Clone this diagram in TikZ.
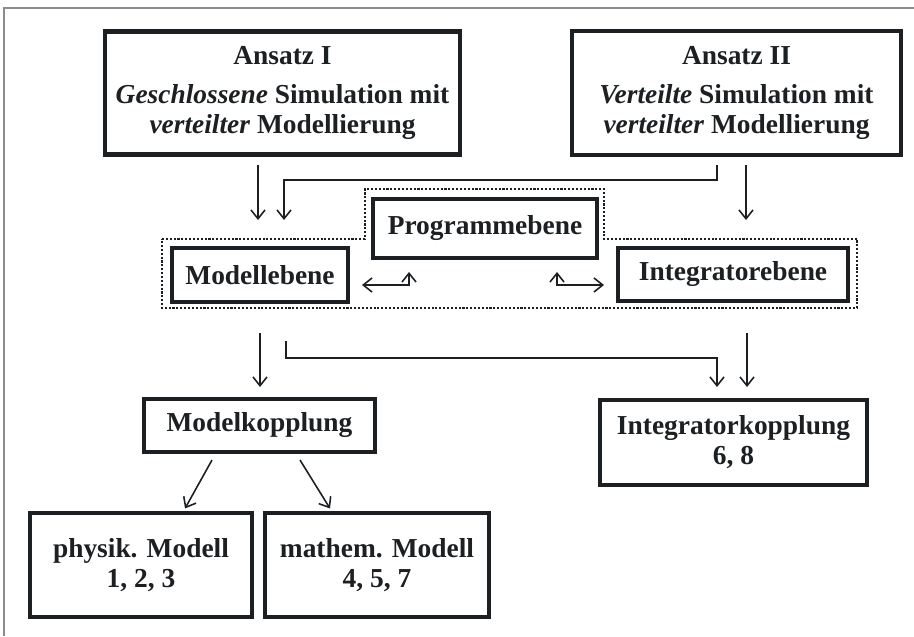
\documentclass[tikz,border=0pt]{standalone}
\usepackage{fontspec}
\setmainfont{Liberation Serif}
\usepackage{tikz}
\usetikzlibrary{arrows.meta, positioning, calc}
\usepackage{xcolor}
\definecolor{InkBlack}{RGB}{28,32,34}
\definecolor{FrameGray}{RGB}{140,140,140}
\newcommand{\diafont}{\fontsize{15.6pt}{17pt}\selectfont\bfseries}
\tikzset{
  levelbox/.style={rectangle,draw=InkBlack,line width=2.3pt,fill=white,
    align=center,font=\diafont,text=InkBlack,inner sep=0pt},
  arrow/.style={-{Straight Barb[length=5pt,width=8pt,line width=0.9pt]},
    line width=0.9pt,color=InkBlack},
  twoarrow/.style={{Straight Barb[length=5pt,width=8pt,line width=0.9pt]}-{Straight Barb[length=5pt,width=8pt,line width=0.9pt]},
    line width=0.9pt,color=InkBlack},
  dotframe/.style={densely dotted,line width=1.2pt,color=InkBlack}
}

\begin{document}
\begin{tikzpicture}
  \useasboundingbox (0,0) rectangle (18.28,12.72);
  \draw[FrameGray,line width=0.6pt] (0.08,0) -- (0.08,12.56) -- (18.28,12.56);

  % approaches
  \node[levelbox,minimum width=7.1cm,minimum height=2.46cm] (ansatzA) at (5.65,10.86)
    {Ansatz I\\[5pt]\textit{Geschlossene} Simulation mit\\\textit{verteilter} Modellierung};
  \node[levelbox,minimum width=6.58cm,minimum height=2.48cm] (ansatzB) at (14.73,10.86)
    {Ansatz II\\[5pt]\textit{Verteilte} Simulation mit\\\textit{verteilter} Modellierung};

  % levels
  \draw[dotframe] (3.24,7.94) -- (7.30,7.94) -- (7.30,8.94) -- (12.08,8.94) -- (12.08,7.94)
    -- (17.14,7.94) -- (17.14,6.56) -- (3.24,6.56) -- cycle;
  \node[levelbox,minimum width=4.48cm,minimum height=1.18cm] (prog) at (9.70,8.15) {Programmebene};
  \node[levelbox,minimum width=3.52cm,minimum height=1.08cm] (modell) at (5.20,7.22) {Modellebene};
  \node[levelbox,minimum width=4.6cm,minimum height=1.06cm] (integ) at (14.66,7.23) {Integratorebene};

  % couplings
  \node[levelbox,minimum width=4.62cm,minimum height=1.06cm] (modkop) at (5.19,4.21) {Modelkopplung};
  \node[levelbox,minimum width=5.34cm,minimum height=1.70cm] (intkop) at (14.67,3.87) {Integratorkopplung\\6, 8};
  \node[levelbox,minimum width=4.44cm,minimum height=2.08cm] (physik) at (2.82,1.42) {physik. Modell\\1, 2, 3};
  \node[levelbox,minimum width=4.48cm,minimum height=2.08cm] (mathem) at (7.54,1.42) {mathem. Modell\\4, 5, 7};

  % free arrow ends
  \coordinate (inA) at (5.16,8.32);
  \coordinate (inB) at (5.68,8.32);
  \coordinate (inC) at (14.92,8.32);
  \coordinate (swL) at (7.24,7.02);
  \coordinate (upL) at (8.18,7.28);
  \coordinate (upR) at (11.14,7.28);
  \coordinate (swR) at (12.08,7.02);
  \coordinate (outA) at (5.20,4.98);
  \coordinate (outB) at (14.34,4.98);
  \coordinate (outC) at (14.94,4.98);

  \draw[arrow] (ansatzA.south -| inA) ++(0,-0.16) -- (inA);
  \draw[arrow] ([xshift=-3.9mm,yshift=-1.6mm]ansatzB.south) |- (5.68,9.12) -- (inB);
  \draw[arrow] (ansatzB.south -| inC) ++(0,-0.16) -- (inC);
  \draw[twoarrow] (swL) -| (upL);
  \draw[twoarrow] (upR) |- (swR);
  \draw[arrow] (5.20,6.06) -- (outA);
  \draw[arrow] (5.72,5.90) |- (14.34,5.56) -- (outB);
  \draw[arrow] (14.94,6.06) -- (outC);
  \draw[arrow] ([xshift=-0.95cm,yshift=-1.2mm]modkop.south) -- ([xshift=0.88cm,yshift=0.5mm]physik.north);
  \draw[arrow] ([xshift=0.81cm,yshift=-1.2mm]modkop.south) -- ([xshift=-0.94cm,yshift=0.5mm]mathem.north);
\end{tikzpicture}
\end{document}
